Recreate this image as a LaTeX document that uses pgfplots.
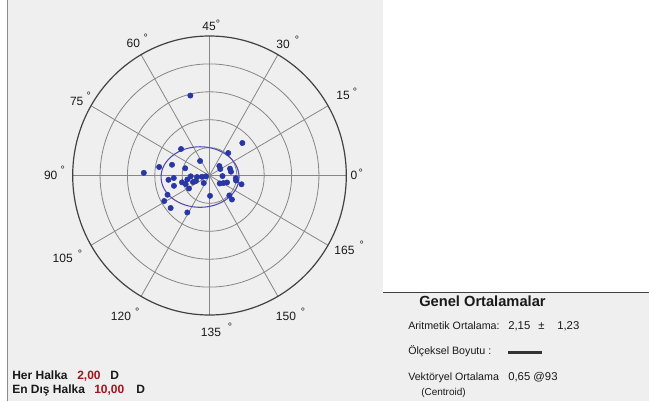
\documentclass[border=0pt]{standalone}
\usepackage{pgfplots}
\pgfplotsset{compat=1.18}
\usepackage{pgfplotstable}
\usepackage{fontspec}
\setmainfont{Liberation Sans}
\definecolor{bg}{HTML}{EFEFEF}
\definecolor{dotblue}{RGB}{40,55,165}
\definecolor{ellc}{RGB}{85,75,175}
\definecolor{gridc}{RGB}{135,135,135}
\definecolor{ringc}{RGB}{65,65,65}
\definecolor{dred}{RGB}{165,20,30}
\definecolor{txt}{RGB}{25,25,25}

% astigmatism vectors (double-angle plot), x/y in D
\pgfplotstableread{
x y
-1.40 5.73
2.40 2.33
-2.08 1.90
1.37 1.61
-0.69 1.04
-2.74 0.77
-3.68 0.61
-4.80 0.19
-1.78 0.52
0.72 0.68
0.79 0.47
1.50 0.49
1.57 0.27
0.95 -0.04
1.92 -0.19
1.94 -0.36
2.34 -0.63
0.75 -0.57
1.02 -0.54
1.28 -0.50
-3.00 -0.31
-2.61 -0.18
-2.60 -0.74
-2.01 -0.49
-1.74 -0.62
-1.62 -0.29
-1.37 -0.06
-1.21 -0.47
-1.50 -0.93
-0.99 -0.39
-0.91 -0.11
-0.55 -0.09
-0.26 -0.06
-0.42 -0.54
0.04 -1.46
1.45 -1.43
1.64 -1.72
-3.07 -1.38
-3.31 -1.83
-2.84 -2.33
-1.62 -2.65
}\pts

\newcommand\lab[5]{%
  \node[font=\fontsize{9}{10}\selectfont, inner sep=0, text=txt] at (#1,{401-#2}) {#3};%
  \node[font=\fontsize{8}{9}\selectfont, inner sep=0, text=txt] at (#4,{398.7-#5}) {°};%
}

\begin{document}
\begin{tikzpicture}[x=0.75pt,y=0.75pt]
\path[use as bounding box] (0,0) rectangle (649,401);
\fill[bg] (8,0) rectangle (383,401);
\fill[white] (383,108.5) rectangle (649,401);
\fill[bg] (383,0) rectangle (649,108.5);
\draw[black!45, line width=1.1pt] (7.5,0) -- (7.5,401);
\draw[black!75, line width=1pt] (383,108.5) -- (649,108.5);

\begin{axis}[at={(157.125pt,169.125pt)}, anchor=center, scale only axis,
  width=205.2pt, height=209.25pt,
  xmin=-10, xmax=10, ymin=-10, ymax=10, hide axis, clip=false]
  \draw[gridc, line width=0.6pt] (axis cs:0,0) circle [radius=2];
  \draw[gridc, line width=0.6pt] (axis cs:0,0) circle [radius=4];
  \draw[gridc, line width=0.6pt] (axis cs:0,0) circle [radius=6];
  \draw[gridc, line width=0.6pt] (axis cs:0,0) circle [radius=8];
  \draw[gridc, line width=0.6pt] (axis cs:-10,0) -- (axis cs:10,0);
  \draw[gridc, line width=0.6pt] (axis cs:0,-10) -- (axis cs:0,10);
  \draw[gridc, line width=0.6pt] (axis cs:8.660,5) -- (axis cs:-8.660,-5);
  \draw[gridc, line width=0.6pt] (axis cs:5,8.660) -- (axis cs:-5,-8.660);
  \draw[gridc, line width=0.6pt] (axis cs:-5,8.660) -- (axis cs:5,-8.660);
  \draw[gridc, line width=0.6pt] (axis cs:-8.660,5) -- (axis cs:8.660,-5);
  \draw[ringc, line width=0.9pt] (axis cs:0,0) circle [radius=10];
  \draw[ellc, line width=0.8pt] (axis cs:-0.69,-0.11) ellipse [x radius=2.85, y radius=2.17];
  \addplot[only marks, mark=*, mark size=2pt, color=dotblue,
    mark options={draw=dotblue, fill=dotblue}] table {\pts};
\end{axis}

% angle labels
\lab{209}{26}{45}{218}{21}
\lab{283}{44}{30}{297}{37}
\lab{133.3}{43.3}{60}{145.7}{35}
\lab{343}{95}{15}{355}{89}
\lab{76.7}{101}{75}{88.7}{93.3}
\lab{354}{175.5}{0}{360.7}{170.7}
\lab{50.7}{175.7}{90}{62.7}{167.7}
\lab{62.7}{258.3}{105}{80}{251}
\lab{344.5}{250}{165}{361.7}{242.3}
\lab{121}{316}{120}{137.3}{309.3}
\lab{286}{316}{150}{303}{309}
\lab{211}{332}{135}{230}{324.3}

% bottom-left legend
\begin{scope}[every node/.style={inner sep=0, anchor=base west, font=\fontsize{9}{10}\selectfont\bfseries}]
\node[text=txt] at (12,{401-379.3}) {Her Halka};
\node[text=dred] at (77,{401-379.3}) {2,00};
\node[text=txt] at (110,{401-379.3}) {D};
\node[text=txt] at (12,{401-393.7}) {En Dış Halka};
\node[text=dred] at (94,{401-393.7}) {10,00};
\node[text=txt] at (136,{401-393.7}) {D};
\end{scope}

% right summary panel
\node[inner sep=0, anchor=base west, text=txt, font=\fontsize{11}{12}\selectfont\bfseries] at (419,{401-306.7}) {Genel Ortalamalar};
\begin{scope}[every node/.style={inner sep=0, anchor=base west, text=txt, font=\fontsize{8}{9}\selectfont}]
\node at (408,{401-329.3}) {Aritmetik Ortalama:};
\node at (408,{401-354}) {Ölçeksel Boyutu :};
\node at (408,{401-380.7}) {Vektöryel Ortalama};
\node[font=\fontsize{7.5}{8}\selectfont] at (421,{401-395.5}) {(Centroid)};
\end{scope}
\begin{scope}[every node/.style={inner sep=0, anchor=base west, text=txt, font=\fontsize{8.5}{9}\selectfont}]
\node at (508,{401-329.3}) {2,15};
\node at (538,{401-329.3}) {±};
\node at (557,{401-329.3}) {1,23};
\node at (508,{401-380.7}) {0,65 @93};
\end{scope}
\draw[black!80, line width=2pt] (508,{401-352.5}) -- (542,{401-352.5});
\end{tikzpicture}
\end{document}
